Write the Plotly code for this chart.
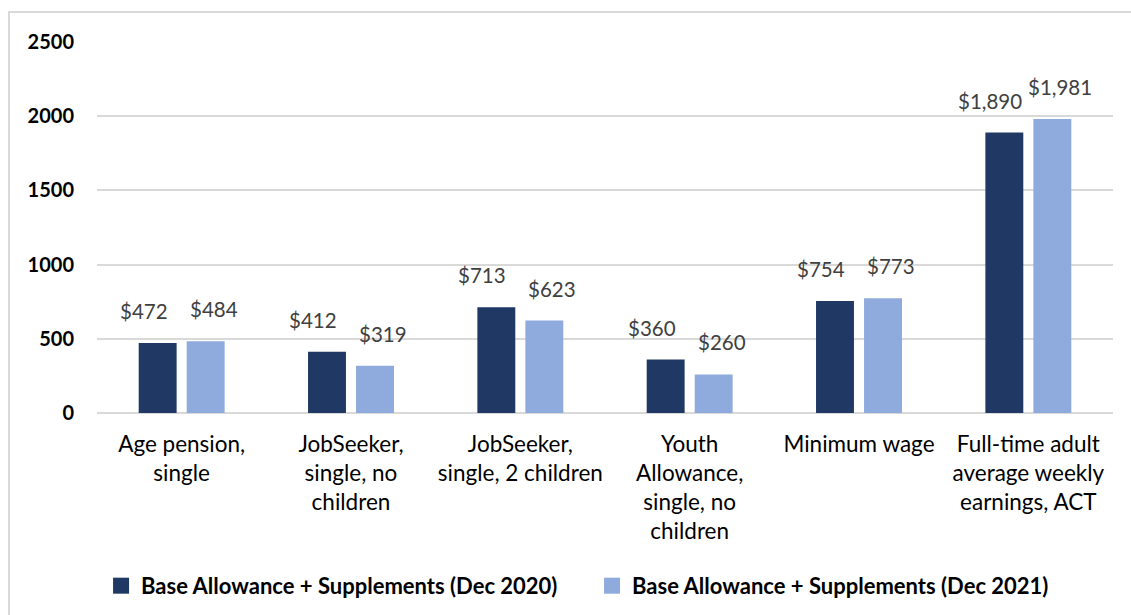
import plotly.graph_objects as go

categories = [
    "Age pension,<br>single",
    "JobSeeker,<br>single, no<br>children",
    "JobSeeker,<br>single, 2 children",
    "Youth<br>Allowance,<br>single, no<br>children",
    "Minimum wage",
    "Full-time adult<br>average weekly<br>earnings, ACT",
]
series_names = [
    "Base Allowance + Supplements (Dec 2020)",
    "Base Allowance + Supplements (Dec 2021)",
]
values_2020 = [472, 412, 713, 360, 754, 1890]
values_2021 = [484, 319, 623, 260, 773, 1981]
y_ticks = [0, 500, 1000, 1500, 2000, 2500]

colors = ["#203864", "#8faadc"]
FONT = "Lato, 'Open Sans', sans-serif"

fig = go.Figure()
for name, vals, col in zip(series_names, [values_2020, values_2021], colors):
    fig.add_trace(go.Bar(
        x=categories, y=vals, name=name, showlegend=False,
        marker=dict(color=col, line=dict(width=0)),
    ))
# legend keys drawn as plain squares
for name, col in zip(series_names, colors):
    fig.add_trace(go.Scatter(
        x=[None], y=[None], mode="markers", name=name,
        marker=dict(symbol="square", size=16, color=col, line=dict(width=0)),
    ))

# value labels floating above each bar, nudged outward from the pair
for k, vals in enumerate([values_2020, values_2021]):
    for i, v in enumerate(vals):
        fig.add_annotation(
            x=categories[i], y=v, text=f"${v:,}",
            xshift=(-38 if k == 0 else 32),
            yshift=32, yanchor="middle", showarrow=False,
            font=dict(family=FONT, size=20.5, color="#404040"),
        )

fig.update_layout(
    width=1131, height=615,
    margin=dict(l=97, r=18, t=42, b=202, autoexpand=False),
    paper_bgcolor="white", plot_bgcolor="white",
    barmode="group", bargap=0.433, bargroupgap=0.21,
    font=dict(family=FONT, color="#000000"),
    showlegend=True,
    legend=dict(
        orientation="h", x=0.004, xanchor="left", y=-0.466, yanchor="middle",
        font=dict(family=FONT, size=22, color="#000000", weight="bold"),
        entrywidth=446, itemwidth=30,
    ),
    shapes=[dict(
        type="rect", xref="paper", yref="paper",
        x0=-0.0866, x1=1.1, y0=-0.7, y1=1.0809,
        line=dict(color="#d9d9d9", width=2), fillcolor="rgba(0,0,0,0)", layer="below",
    )],
)
fig.update_xaxes(
    tickfont=dict(family=FONT, size=22.5, color="#000000"),
    showline=False, ticks="", showgrid=False, ticklabelstandoff=15,
    automargin=False,
)
fig.update_yaxes(
    range=[0, 2500], tickvals=y_ticks, ticktext=[str(t) for t in y_ticks],
    tickfont=dict(family=FONT, size=20, color="#000000", weight="bold"),
    gridcolor="#d9d9d9", gridwidth=1.5, zeroline=True, zerolinecolor="#d9d9d9",
    zerolinewidth=1.5, showline=False, ticks="", ticklabelstandoff=22,
    automargin=False,
)

fig.write_html("out.html")
